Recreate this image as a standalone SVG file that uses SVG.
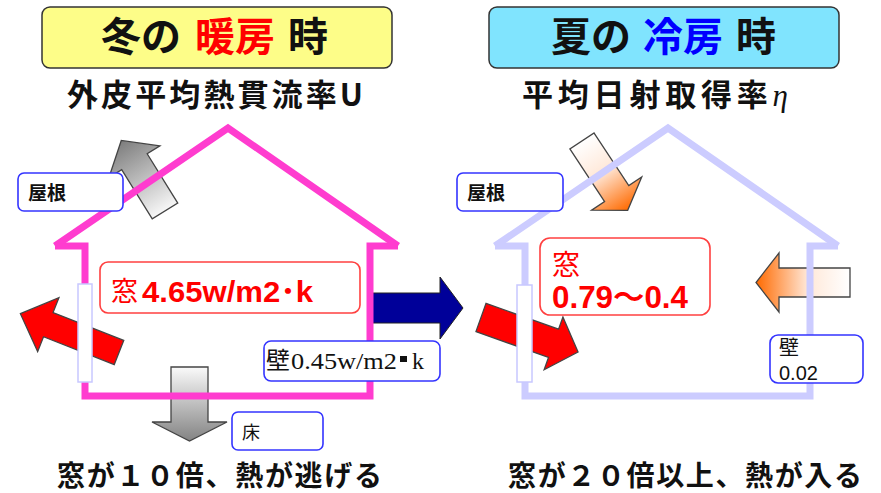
<svg xmlns="http://www.w3.org/2000/svg" width="881" height="493" viewBox="0 0 881 493">
<defs>
  <linearGradient id="gGray" x1="0" y1="0" x2="1" y2="0"><stop offset="0" stop-color="#f7f7f7"/><stop offset="1" stop-color="#7d7d7d"/></linearGradient>
  <linearGradient id="gFloor" x1="0" y1="0" x2="0" y2="1"><stop offset="0" stop-color="#fafafa"/><stop offset="1" stop-color="#838383"/></linearGradient>
  <linearGradient id="gOrange" x1="0" y1="0" x2="1" y2="0"><stop offset="0" stop-color="#ffffff"/><stop offset="0.45" stop-color="#ffe8d8"/><stop offset="1" stop-color="#ff6a00"/></linearGradient>
  <linearGradient id="gOrangeL" x1="1" y1="0" x2="0" y2="0"><stop offset="0" stop-color="#ffffff"/><stop offset="0.45" stop-color="#ffe8d8"/><stop offset="1" stop-color="#ff6a00"/></linearGradient>
  <style>
    .jp{font-family:"Noto Sans CJK JP","Noto Sans CJK SC",sans-serif}
    .sans{font-family:"Liberation Sans","Noto Sans CJK JP",sans-serif}
    .serif{font-family:"Liberation Serif","Noto Sans CJK JP",serif}
    .b{font-weight:bold}
    .title{font-size:40px;font-weight:bold;fill:#111}
    .sub{font-size:31px;font-weight:bold;fill:#111}
    .foot{font-size:28px;font-weight:bold;fill:#111}
    .lbl{fill:#fff;stroke:#3434ff;stroke-width:1.6}
    .win{fill:#fff;stroke:#ff4040;stroke-width:1.6}
    .pane{fill:#fff;stroke:#c8c8ff;stroke-width:1.5}
    .arr{stroke:#444;stroke-width:1.3;stroke-linejoin:miter}
    .wall{fill:none;stroke-width:7;stroke-linejoin:miter}
    .red{fill:#ff0000}
  </style>
</defs>
<rect width="881" height="493" fill="#fff"/>

<!-- titles -->
<g id="title-winter">
  <rect x="42" y="7" width="350" height="61" rx="8" fill="#fdfd88" stroke="#333" stroke-width="1.5"/>
  <text class="jp title" y="51"><tspan x="101">冬の</tspan><tspan x="195" fill="#ff0000">暖房</tspan><tspan x="288">時</tspan></text>
  <text class="jp sub" x="67" y="106" textLength="296" lengthAdjust="spacing">外皮平均熱貫流率U</text>
</g>
<g id="title-summer">
  <rect x="489" y="7" width="350" height="61" rx="8" fill="#80e4fe" stroke="#333" stroke-width="1.5"/>
  <text class="jp title" y="51"><tspan x="551">夏の</tspan><tspan x="643" fill="#0000ff">冷房</tspan><tspan x="736">時</tspan></text>
  <text class="jp sub" x="522" y="106" textLength="266" lengthAdjust="spacing">平均日射取得率<tspan class="serif" font-style="italic" font-weight="normal">η</tspan></text>
</g>

<!-- arrows -->
<g id="arrows">
  <polygon id="arrow-roof-out" class="arr" fill="url(#gGray)" points="0,-15 58,-15 58,-30 83,0 58,30 58,15 0,15" transform="translate(165,211) rotate(-121.8)"/>
  <polygon id="arrow-floor-out" class="arr" fill="url(#gFloor)" points="171,367 208,367 208,422 227,422 189.5,441 152,422 171,422"/>
  <polygon id="arrow-window-out" class="arr red" points="0,-13 76,-13 76,-29 106,0 76,29 76,13 0,13" transform="translate(119,352.5) rotate(201.5)"/>
  <polygon id="arrow-center" fill="#000099" stroke="#222" stroke-width="1" points="370,293 440,293 440,277 463,308 440,339 440,323 370,323"/>
  <polygon id="arrow-window-in" class="arr red" points="0,-15 77,-15 77,-28 103,0 77,28 77,15 0,15" transform="translate(481,317.5) rotate(19.6)"/>
  <polygon id="arrow-roof-in" class="arr" fill="url(#gOrange)" points="0,-14.5 63,-14.5 63,-30 83,0 63,30 63,14.5 0,14.5" transform="translate(582,141) rotate(56.6)"/>
  <polygon id="arrow-wall-in" class="arr" fill="url(#gOrangeL)" points="850,268 779,268 779,253 756,282.5 779,312 779,297 850,297"/>
</g>

<!-- houses -->
<g id="house-winter">
  <polyline class="wall" stroke="#ff3ccf" points="55,246 228,128 398,246" stroke-linecap="butt"/>
  <path class="wall" stroke="#ff3ccf" d="M55,246 H85 V396 H370 V246 H398"/>
  <rect class="pane" x="78" y="284" width="14" height="98"/>
</g>
<g id="house-summer">
  <polyline class="wall" stroke="#ccccff" points="495,246 668,128 838,246" stroke-linecap="butt"/>
  <path class="wall" stroke="#ccccff" d="M495,246 H525 V396 H810 V246 H838"/>
  <rect class="pane" x="517" y="285" width="15" height="97"/>
</g>

<!-- labels -->
<g id="label-roof-winter">
  <rect class="lbl" x="18" y="173" width="105" height="38" rx="6"/>
  <text class="jp b" x="28" y="200" font-size="19" fill="#111">屋根</text>
</g>
<g id="label-window-winter">
  <rect class="win" x="100" y="262" width="260" height="51" rx="8"/>
  <text class="jp" x="111" y="301" font-size="27" fill="#ff0000">窓</text>
  <text class="sans b" x="142" y="302" font-size="30" fill="#ff0000" textLength="171" lengthAdjust="spacingAndGlyphs">4.65w/m2･k</text>
</g>
<g id="label-wall-winter">
  <rect class="lbl" x="264" y="341" width="176" height="40" rx="7"/>
  <text class="jp" x="266" y="369" font-size="24" fill="#111">壁</text>
  <text class="serif" x="291" y="369" font-size="24" fill="#111" textLength="106" lengthAdjust="spacingAndGlyphs">0.45w/m2</text>
  <rect x="400" y="356" width="7" height="6" fill="#111"/>
  <text class="serif" x="412" y="369" font-size="24" fill="#111">k</text>
</g>
<g id="label-floor-winter">
  <rect class="lbl" x="232" y="412" width="91" height="38" rx="6"/>
  <text class="jp" x="242" y="439" font-size="18" fill="#111">床</text>
</g>
<g id="label-roof-summer">
  <rect class="lbl" x="457" y="173" width="106" height="38" rx="6"/>
  <text class="jp b" x="467" y="200" font-size="19" fill="#111">屋根</text>
</g>
<g id="label-window-summer">
  <rect class="win" x="540" y="238" width="170" height="77" rx="10"/>
  <text class="jp" x="552" y="275" font-size="28" fill="#ff0000">窓</text>
  <text class="sans b" x="552" y="308" font-size="31" fill="#ff0000" textLength="136" lengthAdjust="spacingAndGlyphs">0.79～0.4</text>
</g>
<g id="label-wall-summer">
  <rect class="lbl" x="770" y="335" width="93" height="48" rx="8"/>
  <text class="jp" x="779" y="355" font-size="20" fill="#111">壁</text>
  <text class="sans" x="779" y="380" font-size="20" fill="#111">0.02</text>
</g>

<!-- footers -->
<text id="foot-winter" class="jp foot" x="57" y="486" textLength="325" lengthAdjust="spacing">窓が１０倍、熱が逃げる</text>
<text id="foot-summer" class="jp foot" x="508" y="486" textLength="354" lengthAdjust="spacing">窓が２０倍以上、熱が入る</text>
</svg>
